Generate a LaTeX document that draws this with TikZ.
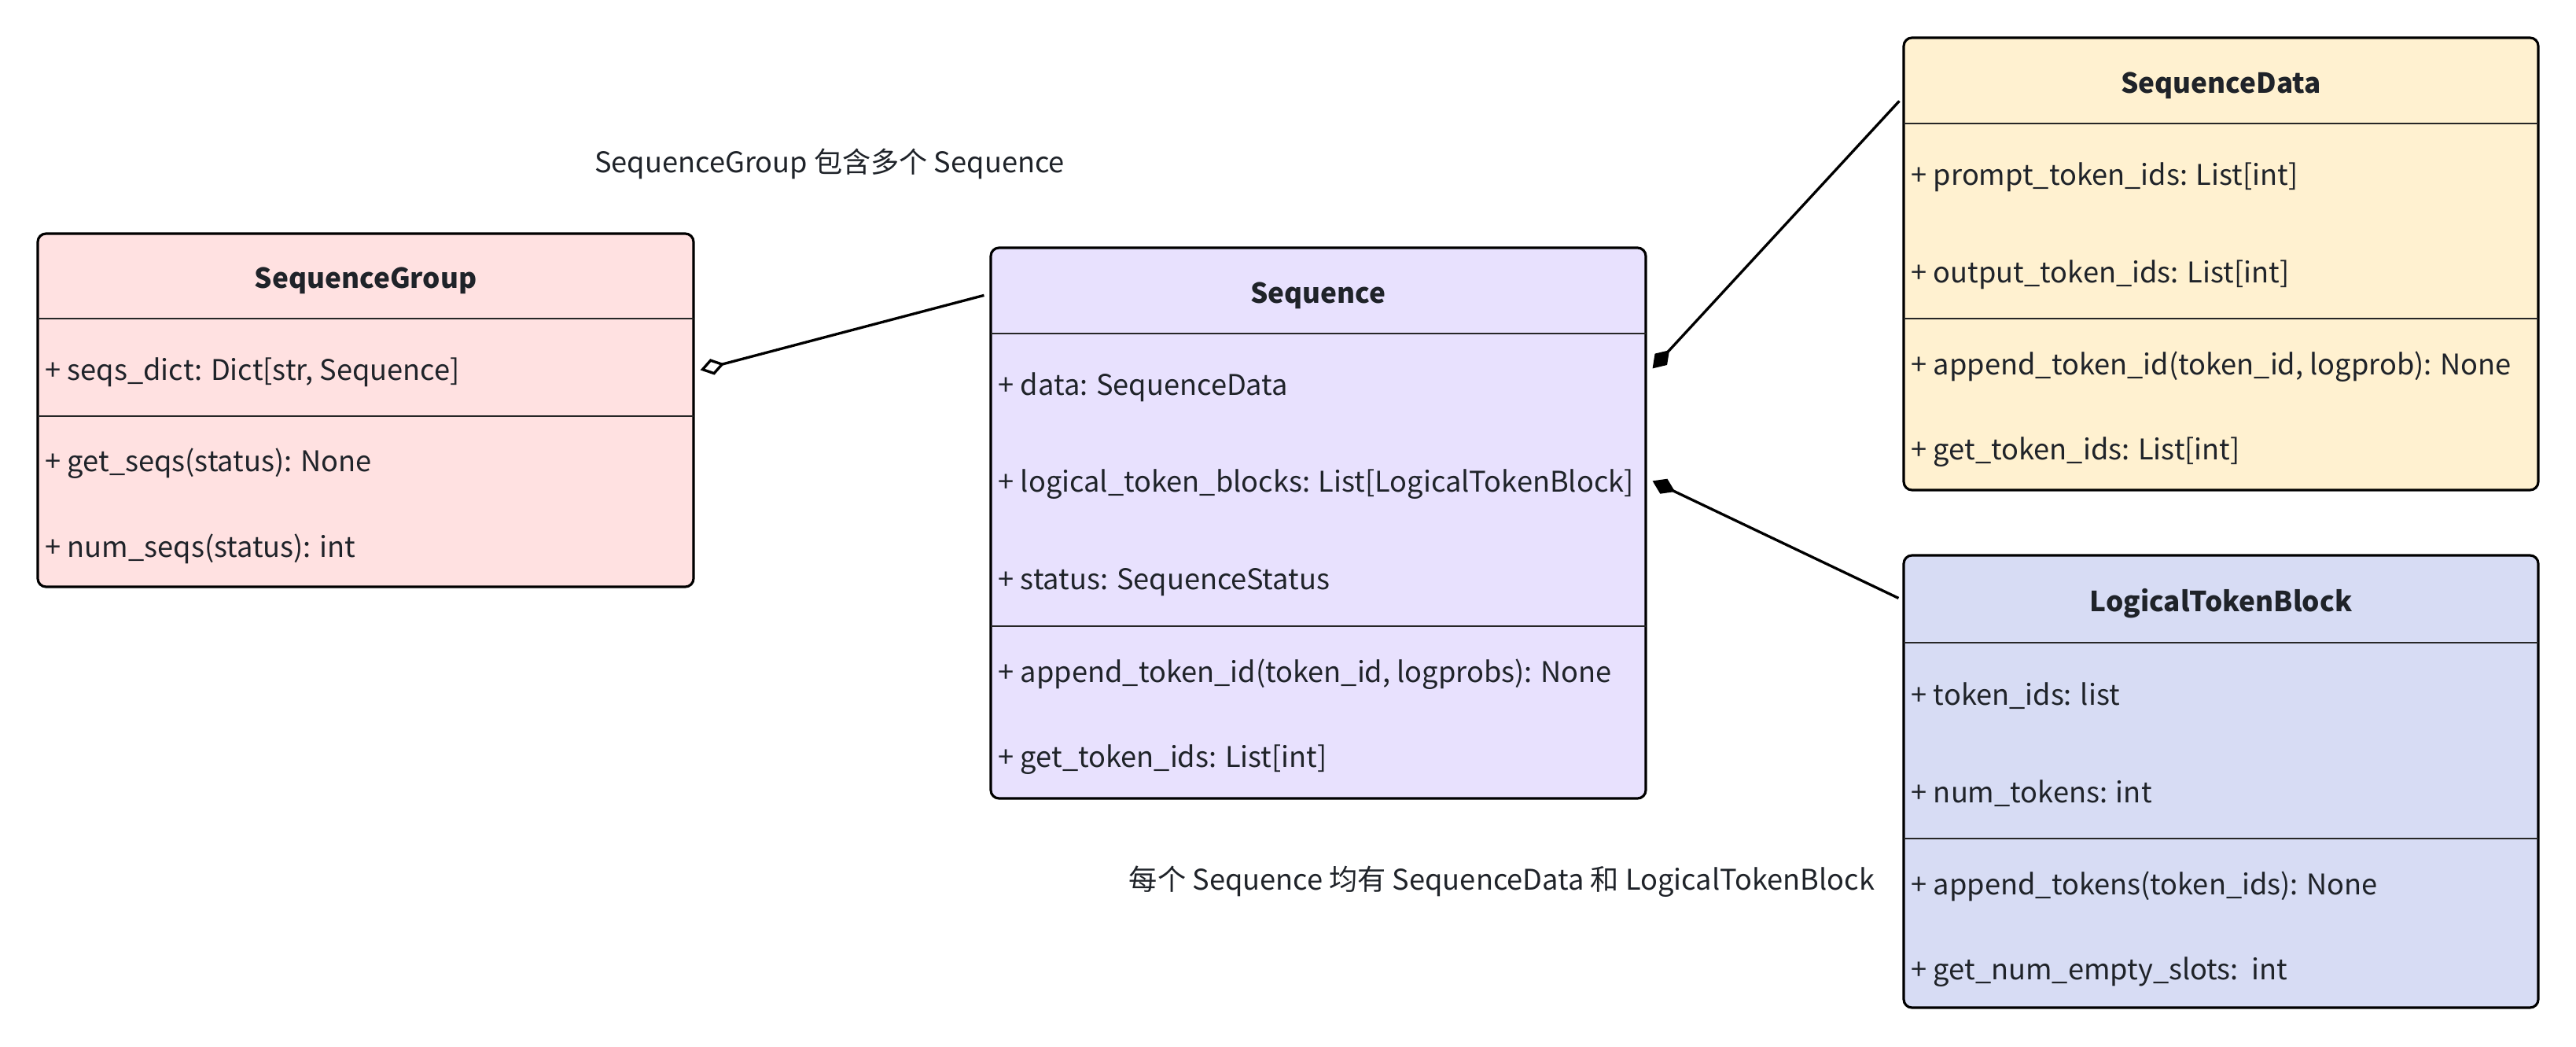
\documentclass[tikz,border=0pt]{standalone}
\usepackage{fontspec}
\setmainfont{Noto Sans CJK SC}
\usetikzlibrary{arrows.meta,calc}

\definecolor{sgfill}{HTML}{FFE1E1}
\definecolor{seqfill}{HTML}{E8E1FE}
\definecolor{sdfill}{HTML}{FFF1D0}
\definecolor{ltbfill}{HTML}{D7DCF4}
\definecolor{ink}{HTML}{1F2329}

\begin{document}
\begin{tikzpicture}[
  font=\fontsize{10.3}{12}\selectfont,
  cls/.style={rectangle,rounded corners=3pt,draw=black,line width=0.9pt,inner sep=0pt},
  ctitle/.style={font=\fontsize{10}{12}\selectfont\bfseries,text=ink},
  member/.style={anchor=west,inner sep=0pt,text=ink},
  sep/.style={draw=black!85,line width=0.7pt},
  note/.style={text=ink},
  agg/.style={-{Diamond[open,length=9pt,width=6pt]},line width=0.95pt},
  comp/.style={-{Diamond[length=9pt,width=6pt]},line width=0.95pt},
]
\useasboundingbox (0,0) rectangle (32.76,13.30);

%% ---------------------------------------------------------- SequenceGroup
\node[cls,fill=sgfill,minimum width=8.34cm,minimum height=4.49cm] (sg) at (4.65,8.085) {};
\draw[sep] (0.48,9.25) -- (8.82,9.25);
\draw[sep] (0.48,8.01) -- (8.82,8.01);
\node[ctitle] (sg-t) at (4.65,9.73) {SequenceGroup};
\node[member] (sg-a1) at (0.57,8.57) {+ seqs\_dict: Dict[str, Sequence]};
\node[member] (sg-m1) at (0.57,7.41) {+ get\_seqs(status): None};
\node[member] (sg-m2) at (0.57,6.32) {+ num\_seqs(status): int};

%% --------------------------------------------------------------- Sequence
\node[cls,fill=seqfill,minimum width=8.33cm,minimum height=7.00cm] (seq) at (16.765,6.65) {};
\draw[sep] (12.60,9.06) -- (20.93,9.06);
\draw[sep] (12.60,5.34) -- (20.93,5.34);
\node[ctitle] (seq-t) at (16.765,9.545) {Sequence};
\node[member] (seq-a1) at (12.69,8.38) {+ data: SequenceData};
\node[member] (seq-a2) at (12.69,7.14) {+ logical\_token\_blocks: List[LogicalTokenBlock]};
\node[member] (seq-a3) at (12.69,5.90) {+ status: SequenceStatus};
\node[member] (seq-m1) at (12.69,4.73) {+ append\_token\_id(token\_id, logprobs): None};
\node[member] (seq-m2) at (12.69,3.64) {+ get\_token\_ids: List[int]};

%% ----------------------------------------------------------- SequenceData
\node[cls,fill=sdfill,minimum width=8.07cm,minimum height=5.75cm] (sd) at (28.245,9.945) {};
\draw[sep] (24.21,11.73) -- (32.28,11.73);
\draw[sep] (24.21,9.25) -- (32.28,9.25);
\node[ctitle] (sd-t) at (28.245,12.215) {SequenceData};
\node[member] (sd-a1) at (24.30,11.05) {+ prompt\_token\_ids: List[int]};
\node[member] (sd-a2) at (24.30,9.81) {+ output\_token\_ids: List[int]};
\node[member] (sd-m1) at (24.30,8.64) {+ append\_token\_id(token\_id, logprob): None};
\node[member] (sd-m2) at (24.30,7.55) {+ get\_token\_ids: List[int]};

%% ------------------------------------------------------ LogicalTokenBlock
\node[cls,fill=ltbfill,minimum width=8.07cm,minimum height=5.75cm] (ltb) at (28.245,3.365) {};
\draw[sep] (24.21,5.13) -- (32.28,5.13);
\draw[sep] (24.21,2.64) -- (32.28,2.64);
\node[ctitle] (ltb-t) at (28.245,5.625) {LogicalTokenBlock};
\node[member] (ltb-a1) at (24.30,4.45) {+ token\_ids: list};
\node[member] (ltb-a2) at (24.30,3.21) {+ num\_tokens: int};
\node[member] (ltb-m1) at (24.30,2.03) {+ append\_tokens(token\_ids): None};
\node[member] (ltb-m2) at (24.30,0.94) {+ get\_num\_empty\_slots:~~int};

%% ------------------------------------------------------------- relations
\draw[agg] ($(seq.north west)+(-0.07,-0.62)$) -- ($(sg.north east)+(0.07,-1.75)$);
\draw[comp] ($(sd.north west)+(-0.04,-0.82)$) -- ($(seq.north east)+(0.07,-1.55)$);
\draw[comp] ($(ltb.north west)+(-0.05,-0.56)$) -- ($(seq.north east)+(0.07,-2.98)$);

\node[note] (n-agg) at (10.55,11.22) {SequenceGroup 包含多个 Sequence};
\node[note] (n-comp) at (19.10,2.09) {每个 Sequence 均有 SequenceData 和 LogicalTokenBlock};

\end{tikzpicture}
\end{document}
